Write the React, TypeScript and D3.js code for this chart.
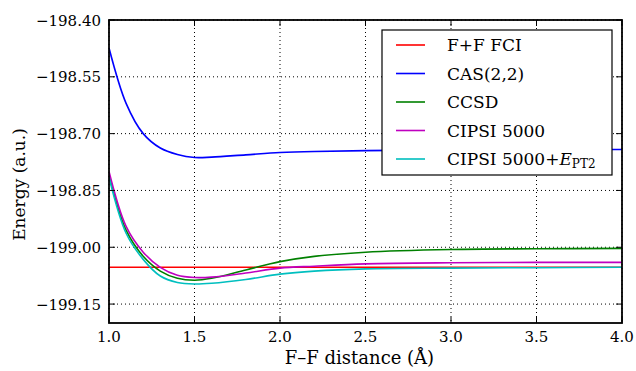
import React from "react";
import * as d3 from "d3";

const distances = [1.0, 1.1, 1.2, 1.3, 1.4, 1.5, 1.6, 1.8, 2.0, 2.2, 2.5, 3.0, 3.5, 4.0];
const fciValues = [-199.053, -199.053, -199.053, -199.053, -199.053, -199.053, -199.053, -199.053, -199.053, -199.053, -199.053, -199.053, -199.053, -199.053];
const casValues = [-198.474, -198.62, -198.7, -198.738, -198.755, -198.763, -198.762, -198.756, -198.75, -198.747, -198.745, -198.743, -198.742, -198.742];
const ccsdValues = [-198.81, -198.955, -199.024, -199.063, -199.082, -199.087, -199.082, -199.06, -199.038, -199.024, -199.013, -199.006, -199.004, -199.003];
const cipsiValues = [-198.8, -198.945, -199.013, -199.053, -199.074, -199.08, -199.079, -199.068, -199.055, -199.05, -199.044, -199.041, -199.04, -199.04];
const cipsiPt2Values = [-198.815, -198.963, -199.032, -199.076, -199.093, -199.097, -199.095, -199.085, -199.071, -199.063, -199.057, -199.055, -199.054, -199.053];

const seriesNames = ["F+F FCI", "CAS(2,2)", "CCSD", "CIPSI 5000", "CIPSI 5000+E_PT2"];
const seriesColors = ["#ff0000", "#0000ff", "#008000", "#bf00bf", "#00bfbf"];
const seriesValues = [fciValues, casValues, ccsdValues, cipsiValues, cipsiPt2Values];

const xTicks = [1.0, 1.5, 2.0, 2.5, 3.0, 3.5, 4.0];
const yTicks = [-198.4, -198.55, -198.7, -198.85, -199.0, -199.15];

const W = 636, H = 371;
const L = 109, R = 622, T = 20, B = 323;
const FONT = "'DejaVu Serif'";

export default function App() {
  const x = d3.scaleLinear().domain([1.0, 4.0]).range([L, R]);
  const y = d3.scaleLinear().domain([-199.2, -198.4]).range([B, T]);
  const line = d3
    .line<number>()
    .x((_, i) => x(distances[i]))
    .y((v) => y(v))
    .curve(d3.curveCatmullRom.alpha(0.5));

  const legX = 382, legY = 30, legW = 230, legH = 145;
  const rowY = [45, 73.5, 102, 130.5, 159];

  return (
    <svg width={W} height={H} style={{ position: "absolute", left: 0, top: 0, background: "#fff" }}>
      <rect x={0} y={0} width={W} height={H} fill="#fff" />
      <defs>
        <clipPath id="plotclip">
          <rect x={L} y={T} width={R - L} height={B - T} />
        </clipPath>
      </defs>
      {xTicks.map((t) => (
        <line key={"gx" + t} x1={x(t)} x2={x(t)} y1={T} y2={B} stroke="#000" strokeWidth={1} strokeDasharray="1,3" />
      ))}
      {yTicks.map((t) => (
        <line key={"gy" + t} x1={L} x2={R} y1={y(t)} y2={y(t)} stroke="#000" strokeWidth={1} strokeDasharray="1,3" />
      ))}
      <g clipPath="url(#plotclip)">
        {seriesValues.map((vals, i) => (
          <path key={"s" + i} d={line(vals) || ""} fill="none" stroke={seriesColors[i]} strokeWidth={1.6} />
        ))}
      </g>
      {xTicks.map((t) => (
        <g key={"tx" + t}>
          <line x1={x(t)} x2={x(t)} y1={B} y2={B - 6} stroke="#000" strokeWidth={1} />
          <line x1={x(t)} x2={x(t)} y1={T} y2={T + 6} stroke="#000" strokeWidth={1} />
          <text x={x(t)} y={342} fontSize={15} textAnchor="middle" fontFamily={FONT}>{t.toFixed(1)}</text>
        </g>
      ))}
      {yTicks.map((t) => (
        <g key={"ty" + t}>
          <line x1={L} x2={L + 6} y1={y(t)} y2={y(t)} stroke="#000" strokeWidth={1} />
          <line x1={R} x2={R - 6} y1={y(t)} y2={y(t)} stroke="#000" strokeWidth={1} />
          <text x={101} y={y(t) + 5.5} fontSize={15} textAnchor="end" fontFamily={FONT}>{"\u2212" + Math.abs(t).toFixed(2)}</text>
        </g>
      ))}
      <rect x={L} y={T} width={R - L} height={B - T} fill="none" stroke="#000" strokeWidth={1.8} />
      <rect x={legX} y={legY} width={legW} height={legH} fill="#fff" stroke="#000" strokeWidth={1.2} />
      {seriesNames.map((name, i) => (
        <g key={"lg" + i}>
          <line x1={396} x2={425} y1={rowY[i]} y2={rowY[i]} stroke={seriesColors[i]} strokeWidth={1.6} />
          {i < 4 ? (
            <text x={447} y={rowY[i] + 6} fontSize={17} fontFamily={FONT}>{name}</text>
          ) : (
            <text x={447} y={rowY[i] + 6} fontSize={17} fontFamily={FONT}>
              {"CIPSI 5000+"}
              <tspan fontStyle="italic">E</tspan>
              <tspan fontSize={12} dy={3}>PT2</tspan>
            </text>
          )}
        </g>
      ))}
      <text x={(L + R) / 2 - 6} y={364} fontSize={18} textAnchor="middle" fontFamily={FONT}>F–F distance (Å)</text>
      <text transform={`translate(25, ${(T + B) / 2 + 13}) rotate(-90)`} fontSize={17} textAnchor="middle" fontFamily={FONT}>Energy (a.u.)</text>
    </svg>
  );
}
